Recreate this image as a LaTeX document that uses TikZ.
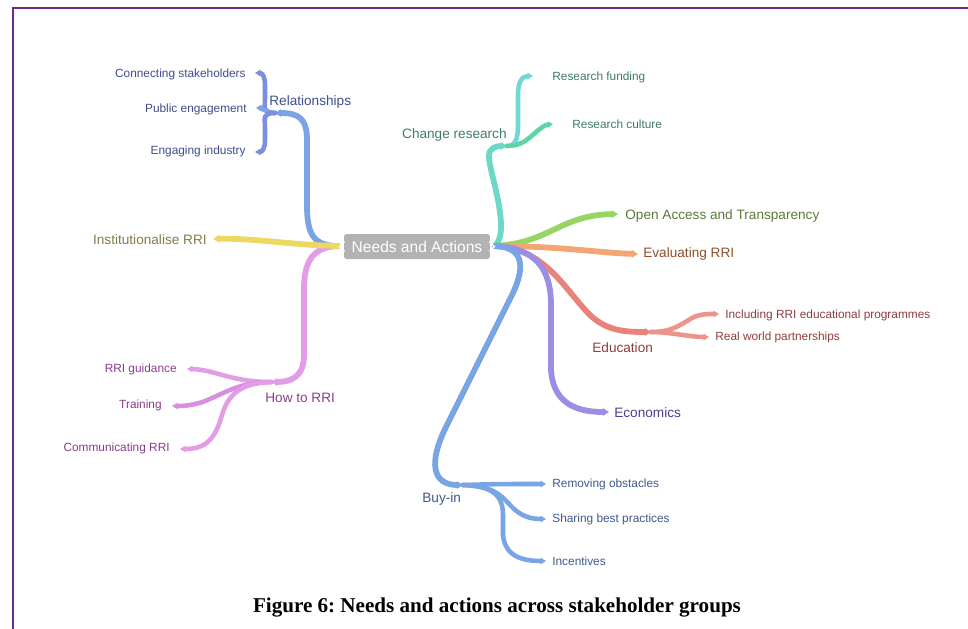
\documentclass[tikz,border=0pt]{standalone}
\usepackage{fontspec}
\setmainfont{Liberation Sans}
\newfontfamily\capfont{Liberation Serif}
\usetikzlibrary{arrows.meta}
\definecolor{frame}{HTML}{6E2C8F}
\definecolor{hubgray}{HTML}{B3B3B3}
\definecolor{relblue}{HTML}{7BA3E6}
\definecolor{relleaf}{HTML}{7B8EE0}
\definecolor{reltext}{HTML}{3E4E8E}
\definecolor{chgteal}{HTML}{6DD8C6}
\definecolor{fundteal}{HTML}{72D8D2}
\definecolor{culgreen}{HTML}{5ED6A4}
\definecolor{chgtext}{HTML}{3F7B6B}
\definecolor{oagreen}{HTML}{97D564}
\definecolor{oatext}{HTML}{5A7A3A}
\definecolor{evorange}{HTML}{F2A673}
\definecolor{evtext}{HTML}{8E4F27}
\definecolor{edured}{HTML}{E8837B}
\definecolor{eduleaf}{HTML}{EC958D}
\definecolor{edutext}{HTML}{8E3E3E}
\definecolor{ecopurple}{HTML}{9B8FE5}
\definecolor{ecotext}{HTML}{4B3F8E}
\definecolor{buyblue}{HTML}{79A5E6}
\definecolor{buytext}{HTML}{3E5A8C}
\definecolor{howpink}{HTML}{E39CE6}
\definecolor{trainpink}{HTML}{D790E0}
\definecolor{howtext}{HTML}{8B3D8C}
\definecolor{instyellow}{HTML}{ECD862}
\definecolor{insttext}{HTML}{857A4A}
\begin{document}
\begin{tikzpicture}[x=0.02cm,y=-0.02cm,
    branch/.style={line width=3.3pt,line cap=round,-{Triangle[length=3.5pt,width=4.2pt]}},
    twig/.style={line width=2.6pt,line cap=round,-{Triangle[length=3pt,width=3.6pt]}},
    topic/.style={font=\fontsize{7.75}{9}\selectfont,inner sep=0pt,yshift=-0.9pt},
    sub/.style={font=\fontsize{6.75}{8}\selectfont,inner sep=0pt,yshift=-0.8pt}]
    \useasboundingbox (0,0) rectangle (968,629);
    \draw[frame,line width=0.7pt] (13,629) -- (13,8) -- (968,8);

    \coordinate (hl) at (338,246);
    \coordinate (hr) at (495,246);

    % relationships
    \coordinate (rel) at (275,113);
    \coordinate (cs) at (255,73);
    \coordinate (pe) at (256,108);
    \coordinate (ei) at (255,152);
    \draw[branch,relblue] (hl) .. controls (312,246) and (307,232) .. (307,205) -- (307,140) .. controls (307,118) and (298,113) .. (rel);
    \draw[twig,relleaf] (rel) .. controls (262,113) and (265,108) .. (265,98) -- (265,85) .. controls (265,76) and (262,73) .. (cs);
    \draw[twig,relblue] (rel) .. controls (265,112) and (262,108) .. (pe);
    \draw[twig,relleaf] (rel) .. controls (262,113) and (265,118) .. (265,128) -- (265,140) .. controls (265,149) and (262,152) .. (ei);
    \node[topic,anchor=west,text=reltext] (relt) at (269,100) {Relationships};
    \node[sub,anchor=east,text=reltext] (cst) at (246,73) {Connecting stakeholders};
    \node[sub,anchor=east,text=reltext] (pet) at (247,108) {Public engagement};
    \node[sub,anchor=east,text=reltext] (eit) at (246,150) {Engaging industry};

    % change research
    \coordinate (chg) at (507,146);
    \coordinate (rf) at (533,76);
    \coordinate (rc) at (553,124);
    \draw[branch,chgteal] (hr) .. controls (503,238) and (502,222) .. (498,200) .. controls (494,180) and (489,165) .. (489,156) .. controls (489,148) and (496,146) .. (chg);
    \draw[twig,fundteal] (chg) .. controls (515,146) and (518,140) .. (518,125) -- (518,95) .. controls (518,82) and (522,76) .. (rf);
    \draw[twig,culgreen] (chg) .. controls (520,146) and (526,141) .. (535,133) .. controls (542,127) and (545,125) .. (rc);
    \node[topic,anchor=east,text=chgtext] (chgt) at (507,133) {Change research};
    \node[sub,anchor=west,text=chgtext] (rft) at (552,76) {Research funding};
    \node[sub,anchor=west,text=chgtext] (rct) at (572,123) {Research culture};

    % open access, evaluating
    \coordinate (oa) at (618,214);
    \coordinate (ev) at (638,254);
    \draw[branch,oagreen] (hr) .. controls (550,243) and (560,215) .. (oa);
    \draw[branch,evorange] (hr) .. controls (560,246) and (600,253) .. (ev);
    \node[topic,anchor=west,text=oatext] (oat) at (625,214) {Open Access and Transparency};
    \node[topic,anchor=west,text=evtext] (evt) at (643,252) {Evaluating RRI};

    % education
    \coordinate (edu) at (651,332);
    \coordinate (irp) at (719,314);
    \coordinate (rwp) at (709,337);
    \draw[branch,edured] (hr) .. controls (545,248) and (565,290) .. (590,315) .. controls (607,331) and (625,332) .. (edu);
    \draw[twig,eduleaf] (edu) .. controls (672,332) and (680,325) .. (692,318) .. controls (700,314) and (706,314) .. (irp);
    \draw[twig,eduleaf] (edu) .. controls (670,332) and (690,337) .. (rwp);
    \node[topic,anchor=west,text=edutext] (edut) at (592,346) {Education};
    \node[sub,anchor=west,text=edutext] (irpt) at (725,314) {Including RRI educational programmes};
    \node[sub,anchor=west,text=edutext] (rwpt) at (715,336) {Real world partnerships};

    % economics
    \coordinate (eco) at (609,412);
    \draw[branch,ecopurple] (hr) .. controls (535,248) and (551,268) .. (551,305) -- (551,370) .. controls (553,400) and (572,412) .. (eco);
    \node[topic,anchor=west,text=ecotext] (ecot) at (614,411) {Economics};

    % buy-in
    \coordinate (buy) at (463,485);
    \coordinate (rem) at (546,484);
    \coordinate (sbp) at (546,519);
    \coordinate (inc) at (546,561);
    \draw[branch,buyblue] (hr) .. controls (520,247) and (528,262) .. (512,295) -- (447,425) .. controls (428,462) and (432,485) .. (buy);
    \draw[twig,buyblue] (buy) .. controls (500,484) .. (rem);
    \draw[twig,buyblue] (buy) .. controls (492,486) and (500,494) .. (510,505) .. controls (520,516) and (530,519) .. (sbp);
    \draw[twig,buyblue] (buy) .. controls (492,486) and (503,495) .. (503,515) -- (503,535) .. controls (505,555) and (520,561) .. (inc);
    \node[topic,anchor=west,text=buytext] (buyt) at (422,497) {Buy-in};
    \node[sub,anchor=west,text=buytext] (remt) at (552,483) {Removing obstacles};
    \node[sub,anchor=west,text=buytext] (sbpt) at (552,518) {Sharing best practices};
    \node[sub,anchor=west,text=buytext] (inct) at (552,560) {Incentives};

    % how to rri
    \coordinate (how) at (271,382);
    \coordinate (rg) at (187,369);
    \coordinate (tr) at (172,406);
    \coordinate (cr) at (180,449);
    \draw[branch,howpink] (hl) .. controls (312,247) and (304,262) .. (304,290) -- (304,355) .. controls (304,376) and (292,382) .. (how);
    \draw[twig,howpink] (how) .. controls (245,382) and (230,377) .. (215,373) .. controls (205,370) and (195,369) .. (rg);
    \draw[twig,trainpink] (how) .. controls (240,382) and (225,393) .. (205,401) .. controls (195,405) and (185,406) .. (tr);
    \draw[twig,howpink] (how) .. controls (240,383) and (228,395) .. (222,415) .. controls (215,440) and (205,449) .. (cr);
    \node[topic,anchor=west,text=howtext] (howt) at (265,396) {How to RRI};
    \node[sub,anchor=east,text=howtext] (rgt) at (177,368) {RRI guidance};
    \node[sub,anchor=east,text=howtext] (trt) at (162,404) {Training};
    \node[sub,anchor=east,text=howtext] (crt) at (170,447) {Communicating RRI};

    % institutionalise
    \coordinate (inst) at (213,239);
    \draw[branch,instyellow] (hl) .. controls (290,245) and (255,238) .. (inst);
    \node[topic,anchor=east,text=insttext] (instt) at (207,238) {Institutionalise RRI};

    \node[fill=hubgray,rounded corners=1.5pt,text=white,minimum width=2.92cm,minimum height=0.5cm,inner sep=0pt,font=\fontsize{8.85}{10}\selectfont] (hub) at (417,246.5) {Needs and Actions};
    \draw[white,line width=0.8pt] (hub.west) ++(1,-5) -- ++(-5,5) -- ++(5,5);
    \draw[white,line width=0.8pt] (hub.east) ++(-1,-5) -- ++(5,5) -- ++(-5,5);

    \node[font=\capfont\bfseries\fontsize{12}{14}\selectfont\frenchspacing] (cap) at (497,608) {Figure 6: Needs and actions across stakeholder groups};
\end{tikzpicture}
\end{document}
